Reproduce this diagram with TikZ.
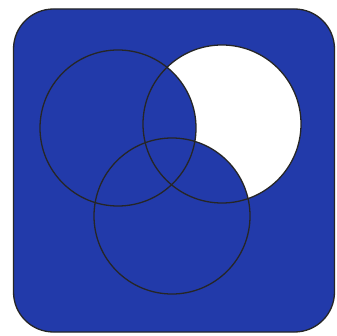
\documentclass[tikz,border=0pt]{standalone}
\definecolor{ink}{RGB}{34,58,170}
\begin{document}
\begin{tikzpicture}[x=1pt,y=-1pt,
  outline/.style={draw=black!85,line width=1.3pt},
  venn/.style={outline}]
\useasboundingbox (0,0) rectangle (336,336);
\fill[white] (0,0) rectangle (336,336);
\node[draw=black!85,line width=1.3pt,fill=ink,rounded corners=40pt,minimum width=321pt,minimum height=323pt,inner sep=0pt] (frame) at (174,170.5) {};
\coordinate (ca) at (118,128);
\coordinate (cb) at (222,124);
\coordinate (cc) at (172,216);
\fill[white] (cb) circle[radius=79];
\fill[ink] (ca) circle[radius=78];
\fill[ink] (cc) circle[radius=78];
\draw[venn] (ca) circle[radius=78];
\draw[venn] (cb) circle[radius=79];
\draw[venn] (cc) circle[radius=78];
\end{tikzpicture}
\end{document}
